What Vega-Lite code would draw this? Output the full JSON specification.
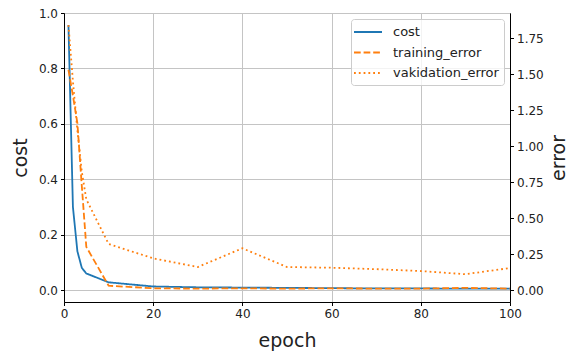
{
  "$schema": "https://vega.github.io/schema/vega-lite/v6.json",
  "width": 446,
  "height": 289,
  "autosize": {"type": "none"},
  "padding": {"left": 64, "top": 13, "right": 60, "bottom": 51},
  "background": "white",
  "config": {
    "font": "DejaVu Sans",
    "view": {"stroke": "#000000", "strokeWidth": 1},
    "axis": {
      "domainColor": "#000000",
      "domainWidth": 1,
      "tickColor": "#000000",
      "tickSize": 3.5,
      "tickWidth": 1,
      "labelColor": "#222222",
      "labelFontSize": 12,
      "labelPadding": 3,
      "labelFlush": false,
      "labelOverlap": false,
      "titleColor": "#222222",
      "titleFontSize": 19,
      "titleFontWeight": "normal",
      "gridColor": "#c4c4c4",
      "gridWidth": 1
    },
    "legend": {
      "title": null,
      "orient": "top-right",
      "offset": 6,
      "padding": 5,
      "symbolType": "M-2,0H2",
      "symbolSize": 196,
      "symbolOffset": 4,
      "symbolStrokeWidth": 1.8,
      "labelFontSize": 13,
      "labelColor": "#222222",
      "labelOffset": 17,
      "rowPadding": 5.5,
      "fillColor": "rgba(255,255,255,0.8)",
      "strokeColor": "#cccccc",
      "cornerRadius": 3
    }
  },
  "data": {
    "values": [
      {"epoch": 1, "series": "cost", "value": 0.957},
      {"epoch": 2, "series": "cost", "value": 0.3},
      {"epoch": 3, "series": "cost", "value": 0.14},
      {"epoch": 4, "series": "cost", "value": 0.08},
      {"epoch": 5, "series": "cost", "value": 0.06},
      {"epoch": 10, "series": "cost", "value": 0.028},
      {"epoch": 20, "series": "cost", "value": 0.013},
      {"epoch": 30, "series": "cost", "value": 0.01},
      {"epoch": 40, "series": "cost", "value": 0.009},
      {"epoch": 50, "series": "cost", "value": 0.008},
      {"epoch": 60, "series": "cost", "value": 0.007},
      {"epoch": 70, "series": "cost", "value": 0.006},
      {"epoch": 80, "series": "cost", "value": 0.006},
      {"epoch": 90, "series": "cost", "value": 0.005},
      {"epoch": 100, "series": "cost", "value": 0.005},
      {"epoch": 1, "series": "training_error", "value": 1.53},
      {"epoch": 2, "series": "training_error", "value": 1.35},
      {"epoch": 3, "series": "training_error", "value": 1.16},
      {"epoch": 4, "series": "training_error", "value": 0.72},
      {"epoch": 5, "series": "training_error", "value": 0.3},
      {"epoch": 10, "series": "training_error", "value": 0.03},
      {"epoch": 20, "series": "training_error", "value": 0.012},
      {"epoch": 30, "series": "training_error", "value": 0.01},
      {"epoch": 40, "series": "training_error", "value": 0.012},
      {"epoch": 50, "series": "training_error", "value": 0.01},
      {"epoch": 60, "series": "training_error", "value": 0.012},
      {"epoch": 70, "series": "training_error", "value": 0.01},
      {"epoch": 80, "series": "training_error", "value": 0.01},
      {"epoch": 90, "series": "training_error", "value": 0.015},
      {"epoch": 100, "series": "training_error", "value": 0.01},
      {"epoch": 1, "series": "vakidation_error", "value": 1.84},
      {"epoch": 2, "series": "vakidation_error", "value": 1.45},
      {"epoch": 3, "series": "vakidation_error", "value": 1.11},
      {"epoch": 4, "series": "vakidation_error", "value": 0.82},
      {"epoch": 5, "series": "vakidation_error", "value": 0.63},
      {"epoch": 10, "series": "vakidation_error", "value": 0.32},
      {"epoch": 20, "series": "vakidation_error", "value": 0.22},
      {"epoch": 30, "series": "vakidation_error", "value": 0.16},
      {"epoch": 40, "series": "vakidation_error", "value": 0.29},
      {"epoch": 50, "series": "vakidation_error", "value": 0.16},
      {"epoch": 60, "series": "vakidation_error", "value": 0.155},
      {"epoch": 70, "series": "vakidation_error", "value": 0.145},
      {"epoch": 80, "series": "vakidation_error", "value": 0.132},
      {"epoch": 90, "series": "vakidation_error", "value": 0.11},
      {"epoch": 100, "series": "vakidation_error", "value": 0.153}
    ]
  },
  "encoding": {
    "x": {
      "field": "epoch",
      "type": "quantitative",
      "scale": {"domain": [0, 100], "nice": false, "zero": false},
      "axis": {"title": "epoch", "values": [0, 20, 40, 60, 80, 100], "grid": true, "titlePadding": 12}
    },
    "color": {
      "field": "series",
      "type": "nominal",
      "scale": {"domain": ["cost", "training_error", "vakidation_error"], "range": ["#1f77b4", "#ff7f0e", "#ff7f0e"]},
      "legend": {"title": null}
    },
    "strokeDash": {
      "field": "series",
      "type": "nominal",
      "scale": {"domain": ["cost", "training_error", "vakidation_error"], "range": [[1, 0], [6.7, 2.9], [1.8, 3]]},
      "legend": {"title": null}
    }
  },
  "layer": [
    {
      "transform": [{"filter": "datum.series === 'cost'"}],
      "mark": {"type": "line", "strokeWidth": 1.8},
      "encoding": {
        "y": {
          "field": "value",
          "type": "quantitative",
          "scale": {"domain": [-0.043, 1.0], "nice": false, "zero": false},
          "axis": {"title": "cost", "values": [0, 0.2, 0.4, 0.6, 0.8, 1.0], "format": ".1f", "grid": true, "titlePadding": 8}
        }
      }
    },
    {
      "transform": [{"filter": "datum.series !== 'cost'"}],
      "mark": {"type": "line", "strokeWidth": 1.8},
      "encoding": {
        "y": {
          "field": "value",
          "type": "quantitative",
          "scale": {"domain": [-0.083, 1.924], "nice": false, "zero": false},
          "axis": {"title": "error", "orient": "right", "values": [0, 0.25, 0.5, 0.75, 1.0, 1.25, 1.5, 1.75], "format": ".2f", "grid": false, "titleAngle": 270, "titleBaseline": "top", "titlePadding": 6}
        }
      }
    }
  ],
  "resolve": {"scale": {"y": "independent"}}
}
